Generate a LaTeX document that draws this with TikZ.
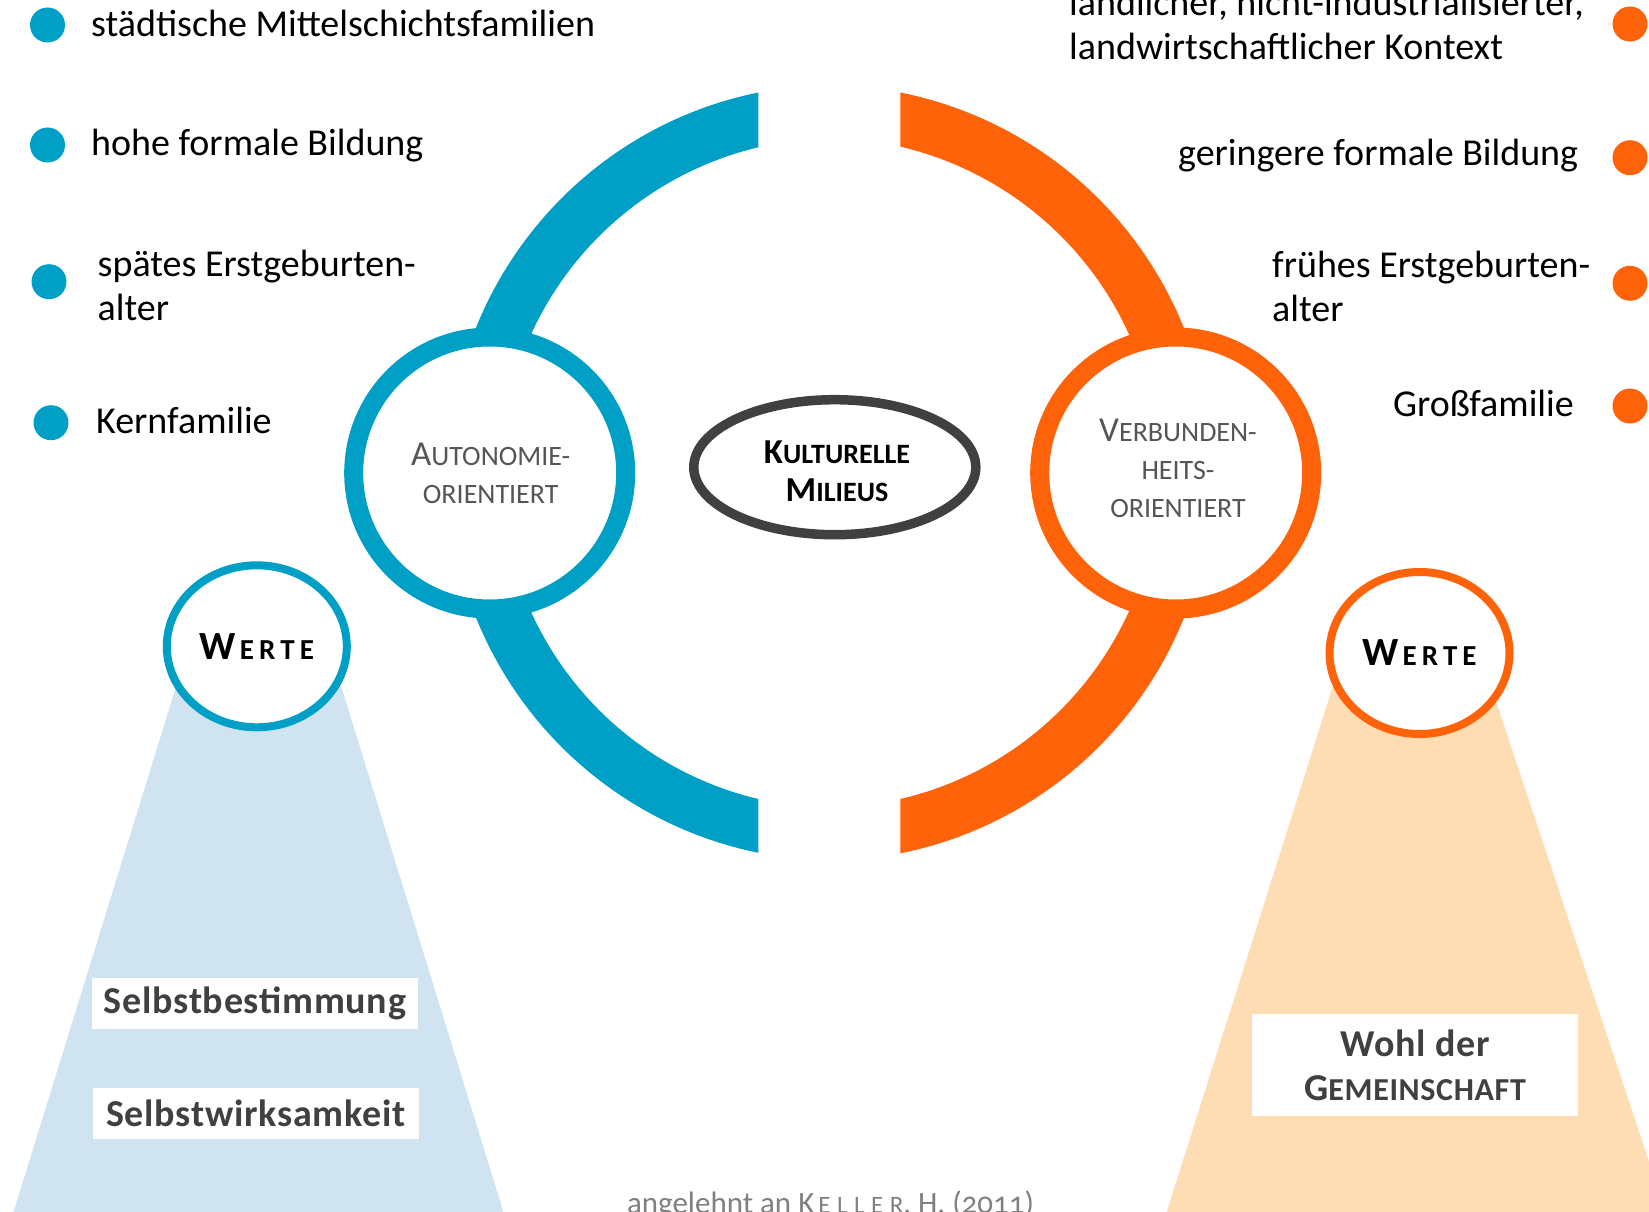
\documentclass[tikz,border=0pt]{standalone}
\usepackage{fontspec}
\setmainfont{Carlito}
\usetikzlibrary{shapes.geometric}
\definecolor{blueC}{HTML}{00A0C6}
\definecolor{orangeC}{HTML}{FF6309}
\definecolor{lightblueC}{HTML}{D0E3F0}
\definecolor{peachC}{HTML}{FEDDB4}
\definecolor{ringgray}{HTML}{404040}
\definecolor{labgray}{HTML}{555555}
\definecolor{boxtext}{HTML}{404040}
\definecolor{footgray}{HTML}{808080}
\newcommand\sz[2]{{\fontsize{#1}{#1}\selectfont #2}}
\begin{document}
\begin{tikzpicture}[x=1pt,y=-1pt,
  item/.style={anchor=base west, inner sep=0pt, font=\fontsize{38}{44}\selectfont},
  dotb/.style={circle, fill=blueC, minimum size=35pt, inner sep=0pt},
  doto/.style={circle, fill=orangeC, minimum size=35pt, inner sep=0pt},
  ringtxt/.style={anchor=base, inner sep=0pt, text=labgray, font=\fontsize{35}{38}\selectfont},
  valbox/.style={fill=white, minimum width=326pt, minimum height=51pt, inner sep=0pt, text=boxtext, font=\bfseries\fontsize{38}{44}\selectfont\addfontfeature{LetterSpace=2}},
  wertering/.style={ellipse, draw, fill=white, line width=8pt, minimum width=180pt, minimum height=162pt, inner sep=0pt, font=\bfseries},
  bigring/.style={circle, fill=white, line width=19pt, minimum size=272pt, inner sep=0pt}
]
\useasboundingbox (0,0) rectangle (1649,1212);
\fill[white] (0,0) rectangle (1649,1212);

% value trapezoids
\fill[lightblueC] (187.4,650) -- (330,650) -- (509,1230) -- (8,1230) -- cycle;
\fill[peachC] (1344.3,650) -- (1479,650) -- (1671.7,1230) -- (1161,1230) -- cycle;

% big arcs
\fill[blueC] (758.3,92.5) arc[start angle=258.46, end angle=101.54, radius=388]
  -- (758.3,799) arc[start angle=103.4, end angle=256.6, radius=335] -- cycle;
\fill[orangeC] (900.3,92.5) arc[start angle=-78.66, end angle=78.66, radius=388]
  -- (900.3,799) arc[start angle=76.83, end angle=-76.83, radius=335] -- cycle;

% rings
\node[bigring, draw=blueC] (auto) at (489.7,473) {};
\node[bigring, draw=orangeC] (verb) at (1175.7,473) {};
\node[ellipse, draw=ringgray, fill=white, line width=9.5pt, minimum width=282pt, minimum height=135pt, inner sep=0pt] (milieu) at (834.8,467.2) {};

\node[ringtxt] (autotxt) at (490.7,465.7) {\begin{tabular}[t]{@{}c@{}}\sz{35}{A}\sz{28}{UTONOMIE-}\\\sz{28}{ORIENTIERT}\end{tabular}};
\node[ringtxt] (verbtxt) at (1178,441) {\begin{tabular}[t]{@{}c@{}}\sz{35}{V}\sz{28}{ERBUNDEN-}\\\sz{28}{HEITS-}\\\sz{28}{ORIENTIERT}\end{tabular}};
\node[ringtxt, text=black, font=\bfseries\fontsize{35}{38}\selectfont] (miltxt) at (837,463.3) {\begin{tabular}[t]{@{}c@{}}\sz{35}{K}\sz{28}{ULTURELLE}\\\sz{35}{M}\sz{28}{ILIEUS}\end{tabular}};

% Werte ellipses
\node[wertering, draw=blueC] (wl) at (256.8,646.3) {\sz{40}{W}\kern4pt\sz{29}{E\kern5pt R\kern5pt T\kern5pt E}};
\node[wertering, draw=orangeC] (wr) at (1419.5,653) {\sz{40}{W}\kern4pt\sz{29}{E\kern5pt R\kern5pt T\kern5pt E}};

% value boxes
\node[valbox] (sb) at (255,1003.5) {Selbstbestimmung};
\node[valbox] (sw) at (256,1113.5) {Selbstwirksamkeit};
\node[valbox, minimum height=102pt, align=center] (wg) at (1415,1065) {Wohl der\\\sz{38}{G}\sz{32}{EMEINSCHAFT}};

% left list
\node[dotb] (d1) at (47.5,25) {};
\node[dotb] (d2) at (47.5,145) {};
\node[dotb] (d3) at (49,281.7) {};
\node[dotb] (d4) at (51,422.7) {};
\node[item] (t1) at (91,37) {städtische Mittelschichtsfamilien};
\node[item] (t2) at (91,156) {hohe formale Bildung};
\node[item] (t3) at (97.5,276) {\begin{tabular}[t]{@{}l@{}}spätes Erstgeburten-\\alter\end{tabular}};
\node[item] (t4) at (96,433) {Kernfamilie};

% right list
\node[doto] (e1) at (1630,24) {};
\node[doto] (e2) at (1630,157.7) {};
\node[doto] (e3) at (1630,283.3) {};
\node[doto] (e4) at (1630,406) {};
\node[item] (r1) at (1069,16) {\begin{tabular}[t]{@{}l@{}}ländlicher, nicht-industrialisierter,\\landwirtschaftlicher Kontext\end{tabular}};
\node[item] (r2) at (1178,165) {geringere formale Bildung};
\node[item] (r3) at (1272,277.7) {\begin{tabular}[t]{@{}l@{}}frühes Erstgeburten-\\alter\end{tabular}};
\node[item] (r4) at (1393,416.7) {Großfamilie};

% footer
\node[anchor=base, inner sep=0pt, text=footgray, font=\fontsize{31}{31}\selectfont] (foot) at (830.5,1213) {angelehnt an K\kern4pt\sz{25}{E\kern6.5pt L\kern6.5pt L\kern6.5pt E\kern6.5pt R}, H. ({\addfontfeature{Numbers=OldStyle}2011})};
\end{tikzpicture}
\end{document}
